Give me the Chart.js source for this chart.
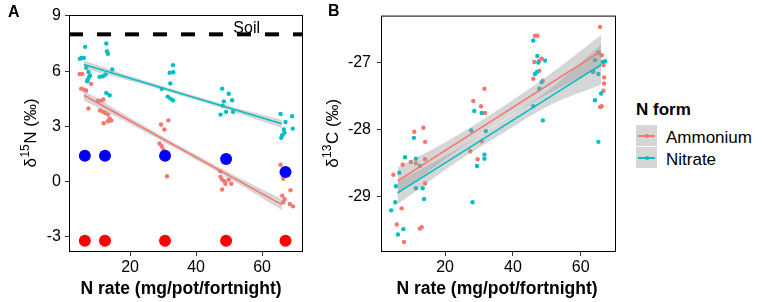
<!DOCTYPE html>
<html>
<head>
<meta charset="utf-8">
<script src="https://cdn.jsdelivr.net/npm/chart.js@4.4.0/dist/chart.umd.min.js"></script>
<style>
  body { margin: 0; background: #fff; width: 765px; height: 302px; position: relative; overflow: hidden;
         font-family: "Liberation Sans", Arial, sans-serif; color: #000; }
  .panel { position: absolute; top: 0; }
  .tag { position: absolute; font-weight: bold; font-size: 16px; line-height: 16px; }
  .lg-title { position: absolute; left: 636px; top: 101px; font-weight: bold; font-size: 17px; line-height: 17px; }
  .lg-text { position: absolute; left: 666px; font-size: 17px; line-height: 20px; }
  .key { position: absolute; left: 636px; width: 21px; height: 21px; background: #d6d6d6; }
  .key .ln { position: absolute; left: 2px; right: 2px; top: 10px; height: 1.5px; }
  .key .dot { position: absolute; left: 8.5px; top: 8.5px; width: 4px; height: 4px; border-radius: 50%; }
</style>
</head>
<body>
<canvas id="chartA" class="panel" style="left:0" width="320" height="302"></canvas>
<canvas id="chartB" class="panel" style="left:320px" width="300" height="302"></canvas>
<div class="tag" style="left:8px;top:4px">A</div>
<div class="tag" style="left:328px;top:3px">B</div>

<div class="lg-title">N form</div>
<div class="key" style="top:125px"><div class="ln" style="background:#F8766D"></div><div class="dot" style="background:#F8766D"></div></div>
<div class="key" style="top:147px"><div class="ln" style="background:#00BFC4"></div><div class="dot" style="background:#00BFC4"></div></div>
<div class="lg-text" style="top:128px">Ammonium</div>
<div class="lg-text" style="top:150px">Nitrate</div>

<script>
const FONT = '"Liberation Sans", Arial, sans-serif';
const AMM = '#F8766D';
const NIT = '#00BFC4';
const BAND = 'rgba(153,153,153,0.4)';

// shared axis ticks
const xTicks = [20, 40, 60];
const aYTicks = [-3, 0, 3, 6, 9];
const bYTicks = [-29, -28, -27];

// ---- panel A : d15N ----
const aAmmX = [4.7, 5.5, 5.2, 6.0, 6.7, 8.2, 7.4,
  10.3, 11.2, 11.9, 10.9, 11.8, 12.5, 13.3, 13.8, 12.0, 13.3, 14.3,
  31.6, 29.4, 30.4, 28.9, 29.6, 30.1, 31.2,
  47.4, 47.4, 47.9, 48.6, 49.9, 50.7, 47.9, 48.9,
  65.6, 66.4, 68.6, 66.1, 66.8, 66.4, 68.4, 69.4];
const aAmmY = [5.85, 5.85, 5.05, 5.0, 4.95, 5.31, 3.97,
  4.40, 4.40, 4.46, 3.86, 3.79, 3.73, 3.64, 3.42, 3.17, 3.28, 3.32,
  3.33, 3.10, 2.83, 2.07, 1.92, 1.74, 0.29,
  0.56, 0.26, 0.11, 0.02, 0.11, -0.11, -0.43, -0.11,
  0.92, 0.16, -0.47, -0.76, -0.94, -1.12, -1.21, -1.34];
const aNitX = [4.8, 5.2, 6.0, 6.4, 6.7, 7.4, 7.9, 7.2, 7.6, 7.0,
  10.8, 11.8, 12.6, 14.6, 12.8, 13.8, 12.8, 13.0, 13.3,
  33.0, 33.1, 32.0, 32.2, 31.4, 32.2, 33.0, 29.6,
  47.9, 49.9, 50.9, 48.4, 48.1, 49.1, 47.4, 51.2,
  65.6, 69.1, 67.1, 69.3, 66.6, 66.8, 66.1, 65.8];
const aNitY = [6.67, 6.72, 6.72, 7.32, 6.18, 5.96, 5.76, 5.54, 5.69, 5.45,
  5.69, 5.72, 5.82, 6.09, 4.82, 4.69, 7.50, 7.08, 6.94,
  6.33, 5.94, 5.91, 5.33, 4.62, 4.51, 4.42, 5.04,
  5.05, 4.77, 4.42, 4.36, 4.13, 3.79, 3.64, 3.79,
  3.68, 3.55, 3.24, 2.88, 2.83, 2.65, 2.52, 2.38];
const rateX = [6.3, 12.4, 30.6, 49.1, 67.1];
const blueY = [1.41, 1.41, 1.41, 1.23, 0.53];
const redY = [-3.21, -3.21, -3.21, -3.21, -3.21];
const soilLevel = 8;
const soilLabel = 'Soil';
const soilLabelX = 51.3;

const fitX = [6, 66];
const aAmmFit = [4.69, -1.25];
const aNitFit = [6.36, 3.14];
const bandX = [6, 21, 36, 51, 66];
const aAmmUp = [4.97, 3.38, 1.85, 0.40, -0.95];
const aAmmLo = [4.41, 3.04, 1.59, 0.07, -1.55];
const aNitUp = [6.58, 5.68, 4.85, 4.07, 3.36];
const aNitLo = [6.14, 5.42, 4.65, 3.81, 2.92];

// ---- panel B : d13C ----
const bAmmX = [4.75, 7.5, 7.2, 5.75, 7.9,
  9.9, 11.4, 14.1, 14.1, 12.6, 13.1, 13.6, 14.1, 10.9,
  28.3, 30.6, 31.6, 31.8, 30.8, 27.4, 29.6,
  46.0, 46.3, 47.8, 48.5, 46.5, 47.2, 48.8, 47.8,
  65.7, 66.2, 66.7, 66.9, 66.9, 66.7, 65.7, 66.2, 63.6];
const bAmmY = [-28.67, -28.52, -29.17, -29.41, -29.67,
  -28.48, -28.50, -28.44, -28.80, -29.47, -29.45, -27.97, -28.18, -28.03,
  -27.57, -27.65, -27.39, -27.75, -28.17, -28.32, -28.44,
  -27.24, -26.99, -26.97, -26.94, -26.60, -26.60, -27.27, -27.12,
  -26.47, -26.89, -27.04, -27.22, -27.31, -27.42, -27.66, -27.65, -27.14];
const bNitX = [4.1, 5.3, 6.5, 5.5, 6.1, 7.7, 10.8,
  8.2, 11.4, 11.4, 13.4, 13.8, 12.6,
  27.7, 28.6, 30.8, 32.0, 31.6, 31.6, 29.4, 28.1,
  46.0, 47.2, 49.5, 47.5, 47.1, 46.5, 48.5, 47.8, 46.0, 48.8,
  65.2, 64.2, 66.5, 67.2, 63.7, 65.2, 66.0, 64.2, 65.2];
const bNitY = [-29.20, -29.08, -28.64, -28.84, -29.56, -29.48, -28.12,
  -28.41, -28.43, -28.87, -28.87, -29.03, -28.54,
  -28.01, -27.72, -27.75, -28.02, -28.37, -28.43, -28.54, -29.08,
  -26.67, -26.90, -26.97, -27.00, -27.14, -27.17, -27.29, -27.39, -27.65, -27.86,
  -26.85, -26.96, -26.99, -26.98, -27.13, -27.17, -27.46, -27.56, -28.18];
const bAmmFit = [-28.76, -26.83];
const bNitFit = [-28.94, -27.03];
const bAmmUp = [-28.56, -28.16, -27.69, -27.17, -26.59];
const bAmmLo = [-28.96, -28.40, -27.89, -27.45, -27.07];
const bNitUp = [-28.77, -28.36, -27.90, -27.39, -26.73];
const bNitLo = [-29.11, -28.56, -28.08, -27.63, -27.33];

Chart.defaults.font.family = FONT;
Chart.defaults.animation = false;

function pts(xs, ys) {
  return xs.map((x, i) => ({x: x, y: ys[i]}));
}

function dots(data, color, r) {
  return {type: 'scatter', data: data, backgroundColor: color, borderWidth: 0, pointRadius: r, pointHoverRadius: r};
}
function fitLine(ys, color) {
  return {type: 'line', data: pts(fitX, ys), borderColor: color, borderWidth: 1.6, pointRadius: 0, fill: false};
}
function bandUp(ys) {
  return {type: 'line', data: pts(bandX, ys), borderWidth: 0, pointRadius: 0, backgroundColor: BAND, fill: '+1', tension: 0.3};
}
function bandLo(ys) {
  return {type: 'line', data: pts(bandX, ys), borderWidth: 0, pointRadius: 0, fill: false, tension: 0.3};
}

function scales(xMin, xMax, yMin, yMax, yTicks, yPad) {
  const grid = {display: true, drawOnChartArea: false, drawTicks: true, tickLength: 4, tickColor: '#333', color: '#333'};
  return {
    x: {
      type: 'linear', min: xMin, max: xMax,
      afterBuildTicks: function(s) { s.ticks = xTicks.map(v => ({value: v})); },
      afterFit: function(s) { s.height = 50; },
      grid: grid, border: {display: false},
      ticks: {color: '#000', font: {size: 16}, padding: 2, maxRotation: 0, autoSkip: false}
    },
    y: {
      type: 'linear', min: yMin, max: yMax,
      afterBuildTicks: function(s) { s.ticks = yTicks.map(v => ({value: v})); },
      afterFit: function(s) { s.width = 44; },
      grid: grid, border: {display: false},
      ticks: {color: '#000', font: {size: 16}, padding: yPad, autoSkip: false}
    }
  };
}

// frame, axis titles and the soil reference label
function decor(opt) {
  return {
    id: 'decor',
    afterDraw: function(chart) {
      const ctx = chart.ctx;
      const a = chart.chartArea;
      ctx.save();
      ctx.strokeStyle = '#000';
      ctx.lineWidth = 1;
      ctx.strokeRect(a.left + 0.5, a.top + 0.5, a.right - a.left - 1, a.bottom - a.top - 1);

      ctx.fillStyle = '#000';
      ctx.font = 'bold 17.5px ' + FONT;
      ctx.textAlign = 'center';
      ctx.textBaseline = 'middle';
      ctx.fillText('N rate (mg/pot/fortnight)', opt.xTitleX, 289);

      // rotated y title with superscript isotope mass
      ctx.translate(opt.yTitleX, (a.top + a.bottom) / 2);
      ctx.rotate(-Math.PI / 2);
      ctx.textAlign = 'left';
      ctx.textBaseline = 'alphabetic';
      const big = '17px ' + FONT, small = '12px ' + FONT;
      ctx.font = big;
      const w1 = ctx.measureText(opt.yTitle[0]).width;
      const w3 = ctx.measureText(opt.yTitle[2]).width;
      ctx.font = small;
      const w2 = ctx.measureText(opt.yTitle[1]).width;
      let cx = -(w1 + w2 + w3) / 2;
      ctx.font = big; ctx.fillText(opt.yTitle[0], cx, 0); cx += w1;
      ctx.font = small; ctx.fillText(opt.yTitle[1], cx + 0.5, -7); cx += w2 + 1;
      ctx.font = big; ctx.fillText(opt.yTitle[2], cx, 0);
      ctx.restore();

      if (opt.soil) {
        const sx = chart.scales.x.getPixelForValue(soilLabelX);
        const sy = chart.scales.y.getPixelForValue(soilLevel);
        ctx.save();
        ctx.fillStyle = '#000';
        ctx.font = '16px ' + FONT;
        ctx.textBaseline = 'alphabetic';
        ctx.fillText(soilLabel, sx, sy - 1.5);
        ctx.restore();
      }
    }
  };
}

const common = {
  responsive: false,
  events: [],
  plugins: {legend: {display: false}, tooltip: {enabled: false}},
};

new Chart(document.getElementById('chartA'), {
  type: 'scatter',
  data: {
    datasets: [
      dots(pts(rateX, blueY), '#0000FF', 6),
      dots(pts(rateX, redY), '#FF0000', 6),
      {type: 'line', data: pts([1.5, 72.4], [soilLevel, soilLevel]), borderColor: '#000', borderWidth: 4,
       borderDash: [14, 14], pointRadius: 0, fill: false},
      fitLine(aAmmFit, AMM),
      fitLine(aNitFit, NIT),
      bandUp(aAmmUp), bandLo(aAmmLo),
      bandUp(aNitUp), bandLo(aNitLo),
      dots(pts(aNitX, aNitY), NIT, 2.2),
      dots(pts(aAmmX, aAmmY), AMM, 2.2)
    ]
  },
  options: Object.assign({}, common, {
    layout: {padding: {left: 25, right: 17, top: 15, bottom: 0}},
    scales: scales(1.5, 72.4, -3.82, 9.05, aYTicks, 4)
  }),
  plugins: [decor({xTitleX: 181, yTitleX: 36, yTitle: ['\u03b4', '15', 'N (\u2030)'], soil: true})]
});

new Chart(document.getElementById('chartB'), {
  type: 'scatter',
  data: {
    datasets: [
      fitLine(bNitFit, NIT),
      fitLine(bAmmFit, AMM),
      bandUp(bAmmUp), bandLo(bAmmLo),
      bandUp(bNitUp), bandLo(bNitLo),
      dots(pts(bNitX, bNitY), NIT, 2.2),
      dots(pts(bAmmX, bAmmY), AMM, 2.2)
    ]
  },
  options: Object.assign({}, common, {
    layout: {padding: {left: 17, right: 4, top: 15, bottom: 0}},
    scales: scales(1.1, 70.4, -29.82, -26.30, bYTicks, 6)
  }),
  plugins: [decor({xTitleX: 177, yTitleX: 18, yTitle: ['\u03b4', '13', 'C (\u2030)'], soil: false})]
});
</script>
</body>
</html>
